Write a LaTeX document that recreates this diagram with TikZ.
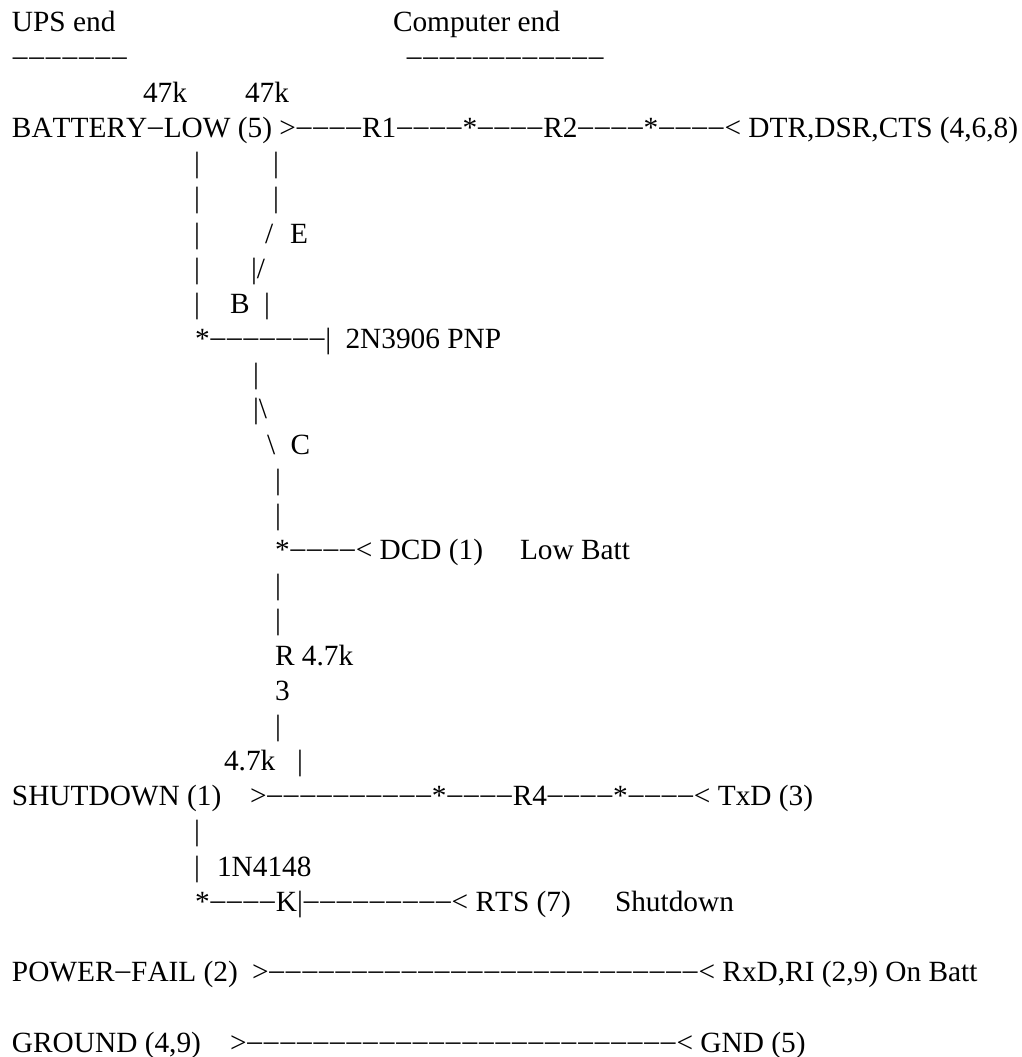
\documentclass[tikz,border=0pt]{standalone}
\usepackage{fontspec}
\usepackage{newunicodechar}
\setmainfont[Kerning=Off]{Liberation Serif}
\usepackage{tikz}
\usetikzlibrary{positioning}

\newcommand{\wiredash}{\makebox[16.54pt]{\raisebox{2pt}{–}}}
\newunicodechar{−}{\wiredash}
\tikzset{linetext/.style={anchor=base west, inner sep=0pt, outer sep=0pt, font=\fontsize{29.33}{35}\selectfont}}

\begin{document}
\begin{tikzpicture}[x=1pt, y=-1pt]
\useasboundingbox (0,0) rectangle (1021,1057);

% Headings
\node[linetext] (upsend) at (12,32) {UPS end};
\node[linetext] (compend) at (393,32) {Computer end};
\node[linetext] (upsrule) at (12,67.2) {−−−−−−−};
\node[linetext] (comprule) at (406,67.2) {−−−−−−−−−−−−};

% Battery low line
\node[linetext] (ronek) at (143,102.3) {47k};
\node[linetext] (rtwok) at (245,102.3) {47k};
\node[linetext] (battlow) at (12,137.5) {BATTERY−LOW (5) >−−−−R1−−−−*−−−−R2−−−−*−−−−< DTR,DSR,CTS (4,6,8)};

% Left bar down to the base
\foreach \y/\name in {172.7/a, 207.9/b, 243/c, 278.2/d, 313.4/e}
    \node[linetext] (basebar\name) at (194,\y) {|};

% Transistor emitter
\node[linetext] (embara) at (273,172.7) {|};
\node[linetext] (embarb) at (273,207.9) {|};
\node[linetext] (emslash) at (265,243) {/};
\node[linetext] (elabel) at (290,243) {E};
\node[linetext] (emjoin) at (251,278.2) {|/};
\node[linetext] (blabel) at (230,313.4) {B};
\node[linetext] (bodybar) at (264,313.4) {|};
\node[linetext] (baseline) at (195,348.5) {*−−−−−−−|};
\node[linetext] (pnp) at (345.5,348.5) {2N3906 PNP};

% Transistor collector
\node[linetext] (colbar) at (253,383.7) {|};
\node[linetext] (coljoin) at (253,418.9) {|\textbackslash};
\node[linetext] (colslash) at (267,454) {\textbackslash};
\node[linetext] (clabel) at (290.5,454) {C};
\foreach \y/\name in {489.2/a, 524.4/b, 594.7/c, 629.9/d, 735.4/e}
    \node[linetext] (rthreebar\name) at (275,\y) {|};
\node[linetext] (dcd) at (275,559.6) {*−−−−< DCD (1)};
\node[linetext] (lowbatt) at (520,559.6) {Low Batt};
\node[linetext] (rthree) at (275,665.1) {R 4.7k};
\node[linetext] (rthreeb) at (275,700.2) {3};

% Shutdown line
\node[linetext] (rfourk) at (224,770.6) {4.7k};
\node[linetext] (rfourbar) at (297,770.6) {|};
\node[linetext] (shutdn) at (12,805.7) {SHUTDOWN (1)};
\node[linetext] (shutline) at (250,805.7) {>−−−−−−−−−−*−−−−R4−−−−*−−−−< TxD (3)};
\node[linetext] (diodebara) at (194,840.9) {|};
\node[linetext] (diodebarb) at (194,876.1) {|};
\node[linetext] (diode) at (217,876.1) {1N4148};
\node[linetext] (rts) at (195,911.3) {*−−−−K|−−−−−−−−−< RTS (7)};
\node[linetext] (shutlabel) at (615,911.3) {Shutdown};

% Power fail and ground
\node[linetext] (pwrfail) at (12,981.6) {POWER−FAIL (2)};
\node[linetext] (pwrline) at (252,981.6) {>−−−−−−−−−−−−−−−−−−−−−−−−−−< RxD,RI (2,9) On Batt};
\node[linetext] (ground) at (12,1052) {GROUND (4,9)};
\node[linetext] (gndline) at (230,1052) {>−−−−−−−−−−−−−−−−−−−−−−−−−−< GND (5)};
\end{tikzpicture}
\end{document}
